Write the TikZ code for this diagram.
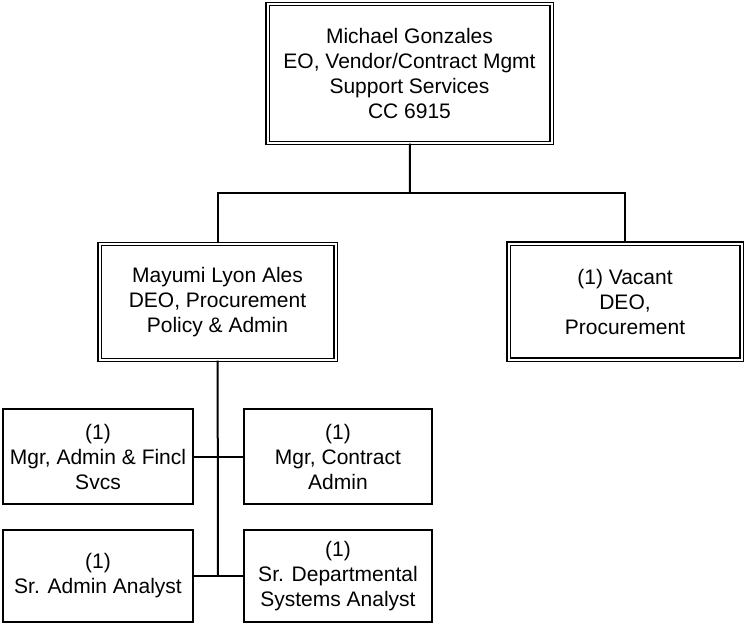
\documentclass[tikz,border=0pt]{standalone}
\usepackage{fontspec}
\setmainfont{Liberation Sans}
\begin{document}
\begin{tikzpicture}[x=1pt,y=-1pt,line width=2pt,font=\fontsize{21}{25}\selectfont,
  post/.style={draw,align=center,inner sep=0pt},
  dpost/.style={post,line width=1.4pt,double,double distance=2pt}]
\useasboundingbox (0,0) rectangle (745,625);
\node[dpost,minimum width=284,minimum height=139] (mg) at (409.5,73.5) {Michael Gonzales\\EO, Vendor/Contract Mgmt\\Support Services\\CC 6915};
\node[dpost,minimum width=236,minimum height=116] (mla) at (217.5,302) {Mayumi Lyon Ales\\DEO, Procurement\\Policy \& Admin};
\node[dpost,minimum width=233,minimum height=116] (vac) at (625,301.5) {(1) Vacant\\DEO,\\Procurement};
\node[post,minimum width=190,minimum height=95] (mac) at (98,456.5) {(1)\\Mgr, Admin \& Fincl\\Svcs};
\node[post,minimum width=188,minimum height=95] (mca) at (338,456.5) {(1)\\Mgr, Contract\\Admin};
\node[post,minimum width=190,minimum height=92] (saa) at (98,576) {(1)\\Sr. Admin Analyst};
\node[post,minimum width=188,minimum height=92] (sda) at (338,576) {(1)\\Sr. Departmental\\Systems Analyst};
\coordinate (bus) at (410,193);
\coordinate (spine) at (218,576);
\draw (mg) -- (bus);
\draw (mla.north) |- (bus) -| (vac.north);
\draw (mla) -- (spine);
\draw (mac) -- (mca);
\draw (saa) -- (sda);
\end{tikzpicture}
\end{document}
